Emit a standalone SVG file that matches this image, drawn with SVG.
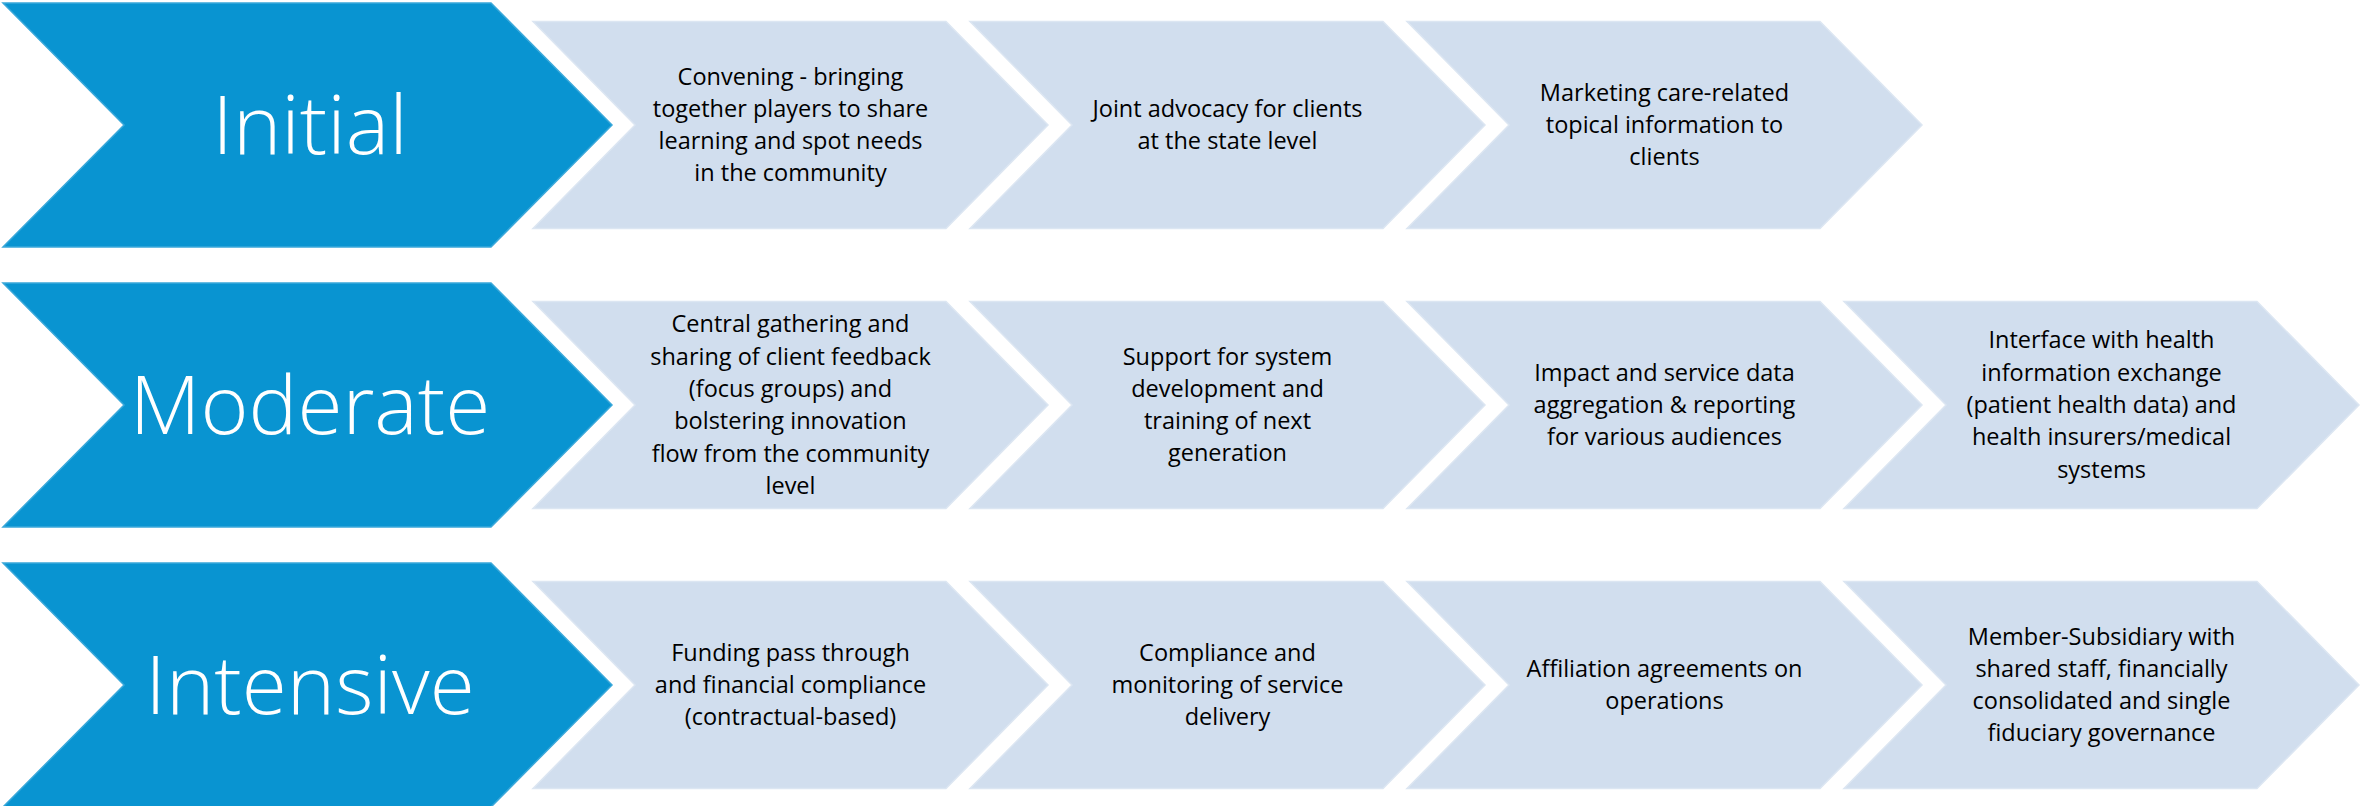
<svg xmlns="http://www.w3.org/2000/svg" width="2362" height="806" viewBox="0 0 2362 806">
<style>
.blue{fill:#0994D1;stroke:#3AA8DA;stroke-width:1.5}
.light{fill:#D1DEEE;stroke:#DCE6F2;stroke-width:1.5}
.lbl{font-family:"Open Sans","Noto Sans","Liberation Sans",sans-serif;font-weight:300;font-size:82px;fill:#FFFFFF;text-anchor:middle}
.t{font-family:"Open Sans","Noto Sans","Liberation Sans",sans-serif;font-size:23.5px;fill:#000000;text-anchor:middle}
</style>
<defs>
<path id="bchev" d="M3,-122 L491,-122 L612,0 L491,122 L3,122 L124,0 Z"/>
<path id="lchev" d="M0,-103.5 L413,-103.5 L515,0 L413,103.5 L0,103.5 L102,0 Z"/>
</defs>
<g id="initial">
<use href="#bchev" class="blue" transform="translate(0,125)"/>
<text class="lbl" x="310" y="154">Initial</text>
</g>
<g id="i1">
<use href="#lchev" class="light" transform="translate(533,125)"/>
<text class="t" x="790.5"><tspan x="790.5" y="84.5">Convening - bringing</tspan><tspan x="790.5" y="116.8">together players to share</tspan><tspan x="790.5" y="149.1">learning and spot needs</tspan><tspan x="790.5" y="181.4">in the community</tspan></text>
</g>
<g id="i2">
<use href="#lchev" class="light" transform="translate(970,125)"/>
<text class="t" x="1227.5"><tspan x="1227.5" y="116.8">Joint advocacy for clients</tspan><tspan x="1227.5" y="149.1">at the state level</tspan></text>
</g>
<g id="i3">
<use href="#lchev" class="light" transform="translate(1407,125)"/>
<text class="t" x="1664.5"><tspan x="1664.5" y="100.7">Marketing care-related</tspan><tspan x="1664.5" y="133">topical information to</tspan><tspan x="1664.5" y="165.3">clients</tspan></text>
</g>
<g id="moderate">
<use href="#bchev" class="blue" transform="translate(0,405)"/>
<text class="lbl" x="310" y="434">Moderate</text>
</g>
<g id="m1">
<use href="#lchev" class="light" transform="translate(533,405)"/>
<text class="t" x="790.5"><tspan x="790.5" y="332.3">Central gathering and</tspan><tspan x="790.5" y="364.6">sharing of client feedback</tspan><tspan x="790.5" y="396.9">(focus groups) and</tspan><tspan x="790.5" y="429.2">bolstering innovation</tspan><tspan x="790.5" y="461.5">flow from the community</tspan><tspan x="790.5" y="493.8">level</tspan></text>
</g>
<g id="m2">
<use href="#lchev" class="light" transform="translate(970,405)"/>
<text class="t" x="1227.5"><tspan x="1227.5" y="364.5">Support for system</tspan><tspan x="1227.5" y="396.8">development and</tspan><tspan x="1227.5" y="429.1">training of next</tspan><tspan x="1227.5" y="461.4">generation</tspan></text>
</g>
<g id="m3">
<use href="#lchev" class="light" transform="translate(1407,405)"/>
<text class="t" x="1664.5"><tspan x="1664.5" y="380.7">Impact and service data</tspan><tspan x="1664.5" y="413">aggregation &amp; reporting</tspan><tspan x="1664.5" y="445.3">for various audiences</tspan></text>
</g>
<g id="m4">
<use href="#lchev" class="light" transform="translate(1844,405)"/>
<text class="t" x="2101.5"><tspan x="2101.5" y="348.4">Interface with health</tspan><tspan x="2101.5" y="380.7">information exchange</tspan><tspan x="2101.5" y="413">(patient health data) and</tspan><tspan x="2101.5" y="445.3">health insurers/medical</tspan><tspan x="2101.5" y="477.6">systems</tspan></text>
</g>
<g id="intensive">
<use href="#bchev" class="blue" transform="translate(0,685)"/>
<text class="lbl" x="310" y="714">Intensive</text>
</g>
<g id="x1">
<use href="#lchev" class="light" transform="translate(533,685)"/>
<text class="t" x="790.5"><tspan x="790.5" y="660.7">Funding pass through</tspan><tspan x="790.5" y="693">and financial compliance</tspan><tspan x="790.5" y="725.3">(contractual-based)</tspan></text>
</g>
<g id="x2">
<use href="#lchev" class="light" transform="translate(970,685)"/>
<text class="t" x="1227.5"><tspan x="1227.5" y="660.7">Compliance and</tspan><tspan x="1227.5" y="693">monitoring of service</tspan><tspan x="1227.5" y="725.3">delivery</tspan></text>
</g>
<g id="x3">
<use href="#lchev" class="light" transform="translate(1407,685)"/>
<text class="t" x="1664.5"><tspan x="1664.5" y="676.8">Affiliation agreements on</tspan><tspan x="1664.5" y="709.1">operations</tspan></text>
</g>
<g id="x4">
<use href="#lchev" class="light" transform="translate(1844,685)"/>
<text class="t" x="2101.5"><tspan x="2101.5" y="644.5">Member-Subsidiary with</tspan><tspan x="2101.5" y="676.8">shared staff, financially</tspan><tspan x="2101.5" y="709.1">consolidated and single</tspan><tspan x="2101.5" y="741.4">fiduciary governance</tspan></text>
</g>
<g id="connectors"></g>
</svg>
